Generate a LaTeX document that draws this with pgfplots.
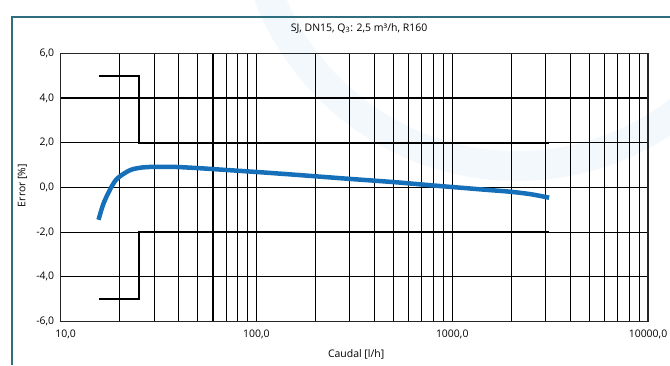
\documentclass[border=0pt]{standalone}
\usepackage{fontspec}
\setmainfont{Open Sans}
\usepackage{pgfplots}
\pgfplotsset{compat=1.18}
\definecolor{curveblue}{RGB}{22,112,185}
\definecolor{frameteal}{RGB}{46,110,126}
\definecolor{arcblue}{RGB}{243,248,253}
\begin{document}
\begin{tikzpicture}[x=1bp,y=1bp]
\useasboundingbox (0,0) rectangle (670,365);
\begin{scope}
\clip (0,0) rectangle (670,365);
\draw[arcblue, line width=30bp] (517,465) circle[radius=266];
\end{scope}
\draw[frameteal, line width=1.6bp] (12,0) -- (12,348) -- (670,348);
\begin{axis}[
  at={(60.7bp,43.5bp)}, anchor=south west, scale only axis,
  width=587.3bp, height=268.2bp,
  xmode=log, xmin=10, xmax=10000, ymin=-6, ymax=6,
  xtick={10,100,1000,10000},
  xticklabels={{\hspace*{10bp}10,0},{100,0},{1000,0},{10000,0}},
  minor xtick={20,30,40,50,60,70,80,90,200,300,400,500,600,700,800,900,2000,3000,4000,5000,6000,7000,8000,9000},
  ytick={-6,-4,-2,0,2,4,6},
  yticklabels={{-6,0},{-4,0},{-2,0},{0,0},{2,0},{4,0},{6,0}},
  xmajorgrids, xminorgrids, ymajorgrids,
  major grid style={black, line width=1.1pt},
  minor grid style={black, line width=1.1pt},
  major tick length=0pt, minor tick length=0pt,
  axis line style={black!85, line width=1.1pt},
  ticklabel style={font=\fontsize{10.5}{12}\selectfont},
  xticklabel style={yshift=-5bp},
  yticklabel style={xshift=-3bp},
  title={SJ, DN15, Q\textsubscript{3}: 2,5 m³/h, R160},
  title style={at={(axis description cs:0.508,1.072)}, anchor=center, font=\fontsize{10.5}{12}\selectfont},
  xlabel={Caudal [l/h]},
  xlabel style={at={(axis description cs:0.503,-0.121)}, anchor=center, font=\fontsize{10.5}{12}\selectfont},
  ylabel={Error [\%]},
  ylabel style={at={(axis description cs:-0.065,0.507)}, anchor=center, rotate=0, font=\fontsize{10.5}{12}\selectfont},
]
\addplot[black, line width=2pt] coordinates {(15.625,5) (25,5) (25,2) (3125,2)};
\addplot[black, line width=2pt] coordinates {(15.625,-5) (25,-5) (25,-2) (3125,-2)};
\addplot[curveblue, line width=4.5bp, smooth] coordinates {
(15.6,-1.45) (16.5,-0.75) (17.8,-0.12) (19,0.3) (20.1,0.5) (22,0.72) (23.5,0.82)
(26,0.89) (29.7,0.92) (35,0.92) (40,0.91) (51,0.86) (70,0.78) (104,0.68)
(150,0.58) (198,0.50) (300,0.38) (498,0.24) (700,0.13) (896,0.05) (1200,-0.04)
(1500,-0.11) (1959,-0.19) (2500,-0.30) (3125,-0.46)};
\end{axis}
\end{tikzpicture}
\end{document}
